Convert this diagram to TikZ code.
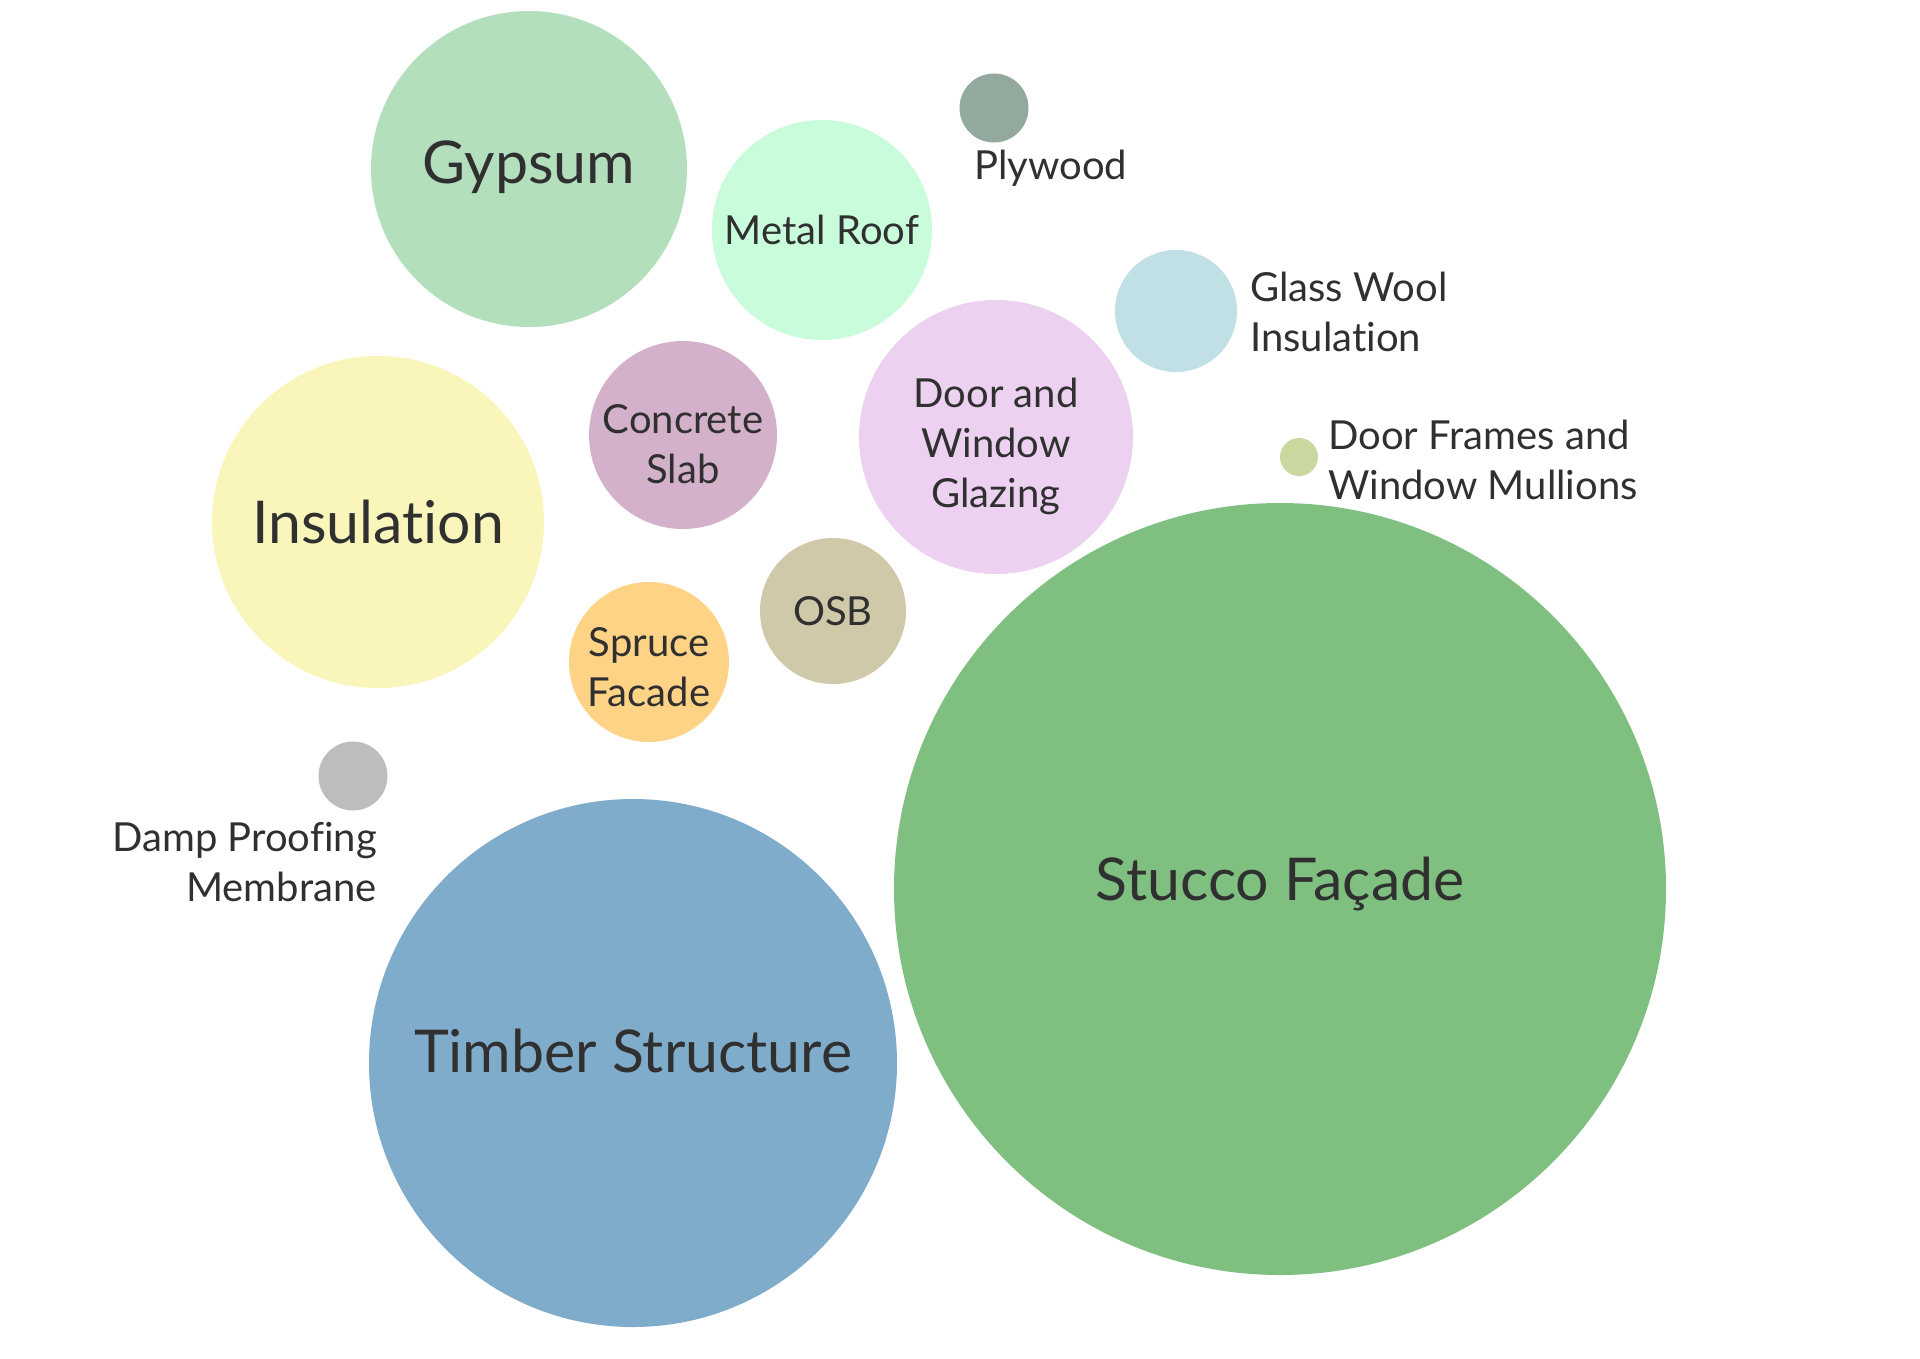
\documentclass[tikz,border=0pt]{standalone}
\usepackage{fontspec}
\setmainfont{Lato}[Ligatures=NoCommon]
\usepackage{tikz}

\definecolor{txtgrey}{HTML}{303030}
\definecolor{gypsumc}{HTML}{B3DFBD}
\definecolor{roofc}{HTML}{C8FCDA}
\definecolor{plywoodc}{HTML}{94A99D}
\definecolor{glasswoolc}{HTML}{C0E0E5}
\definecolor{glazingc}{HTML}{ECD2F0}
\definecolor{framesc}{HTML}{C9D89E}
\definecolor{slabc}{HTML}{D4B1CA}
\definecolor{insulc}{HTML}{FAF5BA}
\definecolor{osbc}{HTML}{D0C9A9}
\definecolor{sprucec}{HTML}{FFD386}
\definecolor{dampc}{HTML}{BDBDBD}
\definecolor{timberc}{HTML}{7FACCB}
\definecolor{stuccoc}{HTML}{7FC080}

\begin{document}
\begin{tikzpicture}[x=1pt,y=-1pt,
  bubble/.style={circle,inner sep=0pt},
  big/.style={inner sep=0pt,text=txtgrey,align=center,font=\fontsize{59}{70}\selectfont},
  small/.style={inner sep=0pt,text=txtgrey,align=center,font=\fontsize{40}{50}\selectfont},
  lbl/.style={inner sep=0pt,text=txtgrey,font=\fontsize{40}{50}\selectfont}]
\useasboundingbox (0,0) rectangle (1920,1358);
\fill[white] (0,0) rectangle (1920,1358);

% large bubbles
\node[bubble,fill=gypsumc,minimum size=316pt,
  label={[big,yshift=2pt]center:Gypsum}] (gypsum) at (529,169) {};
\node[bubble,fill=insulc,minimum size=332pt,
  label={[big]center:Insulation}] (insul) at (378,522) {};
\node[bubble,fill=timberc,minimum size=528pt,
  label={[big,yshift=12pt]center:Timber Structure}] (timber) at (633,1063) {};
\node[bubble,fill=stuccoc,minimum size=772pt,
  label={[big,yshift=5pt]center:Stucco Façade}] (stucco) at (1280,889) {};

% labelled inside
\node[bubble,fill=roofc,minimum size=220pt,
  label={[small]center:Metal Roof}] (roof) at (822,230) {};
\node[bubble,fill=slabc,minimum size=188pt,
  label={[small,yshift=-9pt]center:Concrete\\Slab}] (slab) at (683,435) {};
\node[bubble,fill=glazingc,minimum size=274pt,
  label={[small,yshift=-9pt]center:Door and\\Window\\Glazing}] (glazing) at (996,437) {};
\node[bubble,fill=osbc,minimum size=146pt,
  label={[small]center:OSB}] (osb) at (833,611) {};
\node[bubble,fill=sprucec,minimum size=160pt,
  label={[small,yshift=-5pt]center:Spruce\\Facade}] (spruce) at (649,662) {};

% small bubbles, labelled outside
\node[bubble,fill=plywoodc,minimum size=69pt] (plywood) at (994,108) {};
\node[bubble,fill=glasswoolc,minimum size=122pt] (glasswool) at (1176,311) {};
\node[bubble,fill=framesc,minimum size=38pt] (frames) at (1299,457) {};
\node[bubble,fill=dampc,minimum size=69pt] (damp) at (353,776) {};

\node[lbl,anchor=base west] (plywoodlbl) at (974,179) {Plywood};
\node[lbl,anchor=west,align=left] (glasswoollbl) at (1250,312) {Glass Wool\\Insulation};
\node[lbl,anchor=west,align=left] (frameslbl) at (1328,460) {Door Frames and\\Window Mullions};
\node[lbl,anchor=east,align=right] (damplbl) at (377,862) {Damp Proofing\\Membrane};
\end{tikzpicture}
\end{document}
